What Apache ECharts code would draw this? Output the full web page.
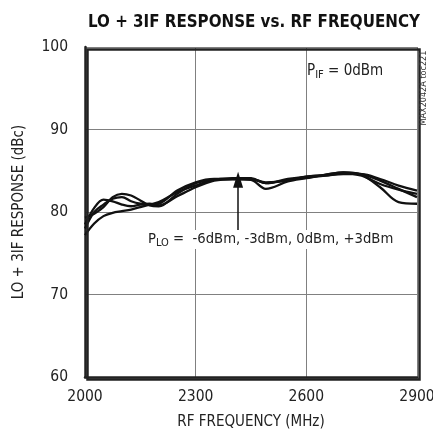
<!DOCTYPE html>
<html><head><meta charset="utf-8">
<script src="https://cdn.jsdelivr.net/npm/echarts@6/dist/echarts.min.js"></script>
<style>html,body{margin:0;padding:0;background:#fff}#c{width:433px;height:436px}</style>
</head><body><div id="c"></div>
<script>
const freqs = [2000,2025,2050,2075,2100,2125,2150,2175,2200,2250,2300,2350,2400,2450,2490,2550,2600,2650,2700,2750,2800,2850,2900];
const pLoM6 = [77.2,78.6,79.5,79.9,80.1,80.3,80.6,80.9,81.2,82.4,83.2,83.9,84.0,84.0,83.5,83.9,84.2,84.4,84.7,84.4,83.4,82.7,82.2];
const pLoM3 = [78.5,80.5,81.5,81.3,80.9,80.7,80.9,81.0,80.8,81.9,83.0,83.8,84.0,83.9,82.8,83.7,84.1,84.5,84.8,84.6,83.8,82.8,81.8];
const pLo0  = [79.3,79.8,80.6,81.8,82.2,82.0,81.4,80.8,80.7,82.2,83.5,83.9,84.1,84.1,83.5,84.0,84.3,84.5,84.8,84.5,83.0,81.2,81.0];
const pLoP3 = [78.0,80.0,80.9,81.6,81.8,81.3,81.0,80.9,81.0,82.6,83.6,84.0,84.0,84.0,83.6,83.8,84.3,84.4,84.6,84.6,84.0,83.2,82.6];
const xTicks = [2000,2300,2600,2900];
const yTicks = [60,70,80,90,100];
const arrowFrom = [2415, 77.6];
const arrowTo = [2415, 83.9];

const FONT = '"Liberation Sans Narrow","DejaVu Sans Condensed","Liberation Sans",sans-serif';
const pair = (ys) => freqs.map((f,i)=>[f, ys[i]]);
const mk = (name, ys) => ({
  name, type:'line', data: pair(ys), smooth:0.35, showSymbol:false, symbol:'none',
  lineStyle:{color:'#111', width:2.3}, z:3
});
const series = [mk('-6dBm',pLoM6), mk('-3dBm',pLoM3), mk('0dBm',pLo0), mk('+3dBm',pLoP3)];
series[0].markLine = {
  silent:true, symbol:['none','triangle'], symbolSize:[10,16],
  lineStyle:{color:'#111', width:1.5, type:'solid'}, label:{show:false},
  data:[[{coord:arrowFrom},{coord:arrowTo}]]
};

const chart = echarts.init(document.getElementById('c'));
chart.setOption({
  animation:false,
  backgroundColor:'#fff',
  title:{
    text:'LO + 3IF RESPONSE vs. RF FREQUENCY', left:249, top:9, textAlign:'center',
    textStyle:{fontFamily:FONT, fontWeight:'bold', fontSize:16.8, color:'#111'}
  },
  grid:{left:85, right:16, top:47, bottom:59, outerBoundsMode:'none', containLabel:false},
  xAxis:{
    type:'value', min:2000, max:2900, interval:300,
    name:'RF FREQUENCY (MHz)', nameLocation:'middle', nameGap:38,
    nameTextStyle:{fontFamily:FONT, fontSize:15, color:'#222'},
    axisLine:{show:true, lineStyle:{color:'#222', width:2.5}},
    axisTick:{show:false},
    axisLabel:{fontFamily:FONT, fontSize:15.5, color:'#222', margin:12,
      formatter:(v)=> xTicks.includes(v) ? String(v) : ''},
    splitLine:{show:true, lineStyle:{color:'#808080', width:1}}
  },
  yAxis:{
    type:'value', min:60, max:100, interval:10,
    name:'LO + 3IF RESPONSE (dBc)', nameLocation:'middle', nameGap:58, nameRotate:90,
    nameTextStyle:{fontFamily:FONT, fontSize:15, color:'#222'},
    axisLine:{show:true, lineStyle:{color:'#222', width:2.5}},
    axisTick:{show:false},
    axisLabel:{fontFamily:FONT, fontSize:15.5, color:'#222', margin:17,
      formatter:(v)=> yTicks.includes(v) ? String(v) : ''},
    splitLine:{show:true, lineStyle:{color:'#808080', width:1}}
  },
  graphic:[
    {type:'rect', left:85, top:47, shape:{width:332, height:330}, silent:true, z:10,
     style:{fill:'none', stroke:'#222', lineWidth:2.5}},
    {type:'text', left:307, top:64, z:11, style:{
      text:'{p|P}{s|IF}{p| = 0dBm}', fontFamily:FONT,
      rich:{p:{fontFamily:FONT, fontSize:15, fill:'#222'}, s:{fontFamily:FONT, fontSize:11, fill:'#222', padding:[8,0,0,0]}}
    }},
    {type:'text', left:148, top:230, z:11, style:{
      text:'{p|P}{s|LO}{p| =  -6dBm, -3dBm, 0dBm, +3dBm}', fontFamily:FONT, backgroundColor:'#fff',
      rich:{p:{fontFamily:FONT, fontSize:14.7, fill:'#222'}, s:{fontFamily:FONT, fontSize:11, fill:'#222', padding:[8,0,0,0]}}
    }},
    {type:'text', x:424, y:88, rotation:Math.PI/2, z:11, style:{
      text:'MAX2042A toc221', fontFamily:FONT, fontSize:9, fill:'#333', align:'center', verticalAlign:'middle'
    }}
  ],
  series
});
</script></body></html>
